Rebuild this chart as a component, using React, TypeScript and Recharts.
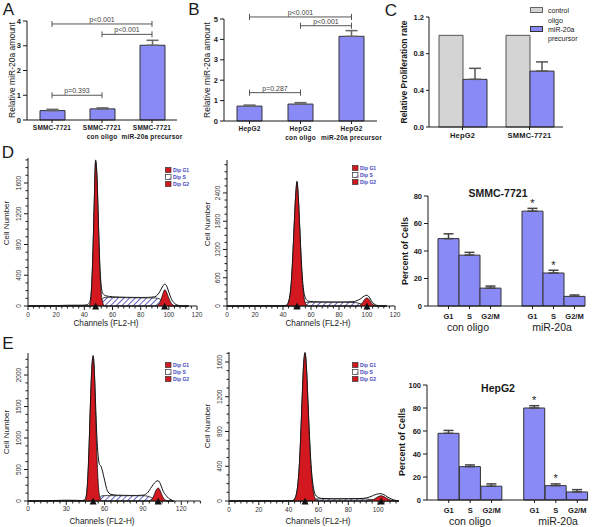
import React from "react";
import {
  BarChart, Bar, XAxis, YAxis, ErrorBar, ReferenceLine, AreaChart, Area, ReferenceDot, LabelList,
} from "recharts";

const FONT = "'Liberation Sans', Arial, Helvetica, sans-serif";
const BLUE = "#8a8af6";
const GREY = "#d4d4d4";
const RED = "#d3191f";
const INK = "#1a1a1a";

// A: miR-20a level in SMMC-7721
const aCats = ["SMMC-7721", "SMMC-7721\ncon oligo", "SMMC-7721\nmiR-20a precursor"];
const aMean = [0.38, 0.45, 3.02];
const aErr = [0.05, 0.04, 0.2];
const aPairs = [[0, 2], [1, 2], [0, 1]];
const aPairY = [3.88, 3.46, 1.0];
const aPairText = ["p<0.001", "p<0.001", "p=0.393"];

// B: miR-20a level in HepG2
const bCats = ["HepG2", "HepG2\ncon oligo", "HepG2\nmiR-20a precursor"];
const bMean = [0.73, 0.83, 4.15];
const bErr = [0.05, 0.07, 0.28];
const bPairs = [[0, 2], [1, 2], [0, 1]];
const bPairY = [5.1, 4.67, 1.39];
const bPairText = ["p<0.001", "p<0.001", "p=0.287"];

// C: proliferation
const cCats = ["HepG2", "SMMC-7721"];
const cControl = [1, 1];
const cPrecursor = [0.52, 0.61];
const cPrecursorErr = [0.12, 0.1];

// cell cycle bars (D, E right)
const phaseCats = ["G1", "S", "G2/M", "", "G1", "S", "G2/M"];
const smmcPct = [49, 37, 13, 0, 69, 24, 7];
const smmcErr = [3.5, 2, 1.5, 0, 2, 2, 1];
const smmcStar = ["", "", "", "", "*", "*", ""];
const hepPct = [58, 29, 12, 0, 80, 12.5, 7];
const hepErr = [2.5, 1.5, 2, 0, 2, 1.5, 2];
const hepStar = ["", "", "", "", "*", "*", ""];

// flow histograms: channels and counts
const CH = [0, 10, 20, 30, 38,
  42, 43, 44, 45, 46, 47, 48, 49, 50, 51, 52, 53, 54, 55, 56, 57, 58,
  60, 62, 65, 70, 75, 80, 85, 90,
  92, 94, 96,
  97, 98, 99, 100, 101, 102, 103, 104, 105, 106,
  108, 110, 112, 114];

const d1Env = [0, 2, 5, 10, 10,
  15, 30, 60, 210, 650, 1330, 1900, 1690, 1090, 540, 260, 170, 145, 135, 130, 127, 124,
  120, 118, 116, 113, 112, 111, 112, 120,
  145, 200, 265,
  285, 275, 235, 180, 130, 85, 55, 35, 20, 12,
  5, 0, 0, 0];
const d1S = [0, 0, 0, 0, 0,
  0, 0, 0, 0, 0, 0, 0, 0, 20, 40, 70, 95, 108, 112, 112, 112, 112,
  111, 110, 110, 108, 107, 106, 106, 105,
  100, 85, 50,
  30, 15, 5, 0, 0, 0, 0, 0, 0, 0,
  0, 0, 0, 0];
const d1G1 = [0, 0, 0, 0, 0,
  0, 0, 30, 180, 620, 1300, 1870, 1650, 1050, 480, 170, 50, 10, 0, 0, 0, 0,
  0, 0, 0, 0, 0, 0, 0, 0,
  0, 0, 0,
  0, 0, 0, 0, 0, 0, 0, 0, 0, 0,
  0, 0, 0, 0];
const d1G2 = [0, 0, 0, 0, 0,
  0, 0, 0, 0, 0, 0, 0, 0, 0, 0, 0, 0, 0, 0, 0, 0, 0,
  0, 0, 0, 0, 0, 0, 0, 0,
  10, 60, 170,
  210, 195, 150, 100, 60, 30, 12, 4, 0, 0,
  0, 0, 0, 0];

const d2Env = [0, 0, 3, 5, 8,
  12, 35, 100, 240, 540, 1080, 1730, 2330, 2650, 2290, 1650, 1010, 540, 280, 170, 125, 105,
  95, 90, 88, 86, 85, 85, 86, 92,
  105, 130, 165,
  190, 210, 225, 228, 210, 170, 120, 75, 45, 25,
  8, 0, 0, 0];
const d2S = [0, 0, 0, 0, 0,
  0, 0, 0, 0, 0, 0, 0, 0, 0, 0, 0, 10, 30, 55, 70, 78, 80,
  80, 80, 79, 78, 78, 77, 77, 76,
  72, 60, 40,
  30, 20, 12, 6, 2, 0, 0, 0, 0, 0,
  0, 0, 0, 0];
const d2G1 = [0, 0, 0, 0, 0,
  0, 20, 80, 220, 520, 1050, 1700, 2300, 2620, 2250, 1600, 950, 460, 180, 60, 15, 0,
  0, 0, 0, 0, 0, 0, 0, 0,
  0, 0, 0,
  0, 0, 0, 0, 0, 0, 0, 0, 0, 0,
  0, 0, 0, 0];
const d2G2 = [0, 0, 0, 0, 0,
  0, 0, 0, 0, 0, 0, 0, 0, 0, 0, 0, 0, 0, 0, 0, 0, 0,
  0, 0, 0, 0, 0, 0, 0, 0,
  0, 5, 40,
  80, 125, 160, 170, 155, 115, 70, 35, 15, 5,
  0, 0, 0, 0];

const e1Env = [0, 3, 8, 12, 10,
  8, 10, 15, 40, 140, 440, 970, 1620, 2120, 2310, 2050, 1500, 1000, 700, 580, 560, 500,
  330, 170, 105, 92, 90, 88, 88, 92,
  105, 140, 200,
  230, 260, 285, 305, 318, 320, 300, 255, 200, 150,
  90, 45, 20, 0];
const e1S = [0, 0, 0, 0, 0,
  0, 0, 0, 0, 0, 0, 0, 0, 0, 0, 0, 0, 0, 10, 40, 70, 82,
  85, 85, 85, 85, 84, 84, 84, 84,
  82, 75, 60,
  50, 40, 30, 20, 12, 6, 2, 0, 0, 0,
  0, 0, 0, 0];
const e1G1 = [0, 0, 0, 0, 0,
  0, 0, 0, 20, 120, 420, 950, 1600, 2100, 2290, 2000, 1350, 700, 280, 80, 20, 0,
  0, 0, 0, 0, 0, 0, 0, 0,
  0, 0, 0,
  0, 0, 0, 0, 0, 0, 0, 0, 0, 0,
  0, 0, 0, 0];
const e1G2 = [0, 0, 0, 0, 0,
  0, 0, 0, 0, 0, 0, 0, 0, 0, 0, 0, 0, 0, 0, 0, 0, 0,
  0, 0, 0, 0, 0, 0, 0, 0,
  0, 0, 5,
  25, 60, 110, 160, 195, 205, 185, 140, 90, 50,
  10, 0, 0, 0];

const e2Env = [0, 0, 0, 0, 0,
  3, 8, 25, 68, 170, 370, 715, 1165, 1565, 1710, 1525, 1130, 740, 420, 230, 120, 70,
  40, 30, 27, 25, 25, 26, 27, 30,
  35, 45, 58,
  66, 72, 78, 82, 84, 84, 80, 72, 62, 50,
  30, 15, 6, 0];
const e2S = [0, 0, 0, 0, 0,
  0, 0, 0, 0, 0, 0, 0, 0, 0, 0, 0, 0, 5, 12, 18, 22, 24,
  24, 24, 24, 23, 23, 23, 24, 24,
  23, 20, 15,
  12, 9, 6, 4, 2, 0, 0, 0, 0, 0,
  0, 0, 0, 0];
const e2G1 = [0, 0, 0, 0, 0,
  0, 0, 20, 60, 160, 360, 700, 1150, 1550, 1700, 1500, 1100, 700, 380, 180, 70, 20,
  0, 0, 0, 0, 0, 0, 0, 0,
  0, 0, 0,
  0, 0, 0, 0, 0, 0, 0, 0, 0, 0,
  0, 0, 0, 0];
const e2G2 = [0, 0, 0, 0, 0,
  0, 0, 0, 0, 0, 0, 0, 0, 0, 0, 0, 0, 0, 0, 0, 0, 0,
  0, 0, 0, 0, 0, 0, 0, 0,
  0, 2, 10,
  18, 28, 40, 50, 57, 60, 57, 50, 40, 30,
  12, 3, 0, 0];

const d1Peaks = [48, 97];
const d2Peaks = [50, 100];
const e1Peaks = [51, 102];
const e2Peaks = [51, 102];

const range = (a: number, b: number, step: number) => {
  const out: number[] = [];
  for (let v = a; v <= b + 1e-9; v += step) out.push(v);
  return out;
};

function Txt({ x, y, size, bold, rot, color, left, children }: any) {
  return (
    <div
      style={{
        position: "absolute", left: x, top: y,
        transform: `translate(${left ? "0" : "-50%"}, -50%)${rot ? " rotate(-90deg)" : ""}`,
        fontSize: size, fontWeight: bold ? "bold" : "normal", color: color || INK,
        whiteSpace: "nowrap", lineHeight: 1, fontFamily: FONT,
      }}
    >
      {children}
    </div>
  );
}

function CatTick(props: any) {
  const { x, y, payload, fs = 6.5, first = 9.5, gap = 9 } = props;
  const lines = String(payload.value).split("\n");
  return (
    <g>
      <line x1={x} y1={y} x2={x} y2={y + 3} stroke={INK} />
      <text x={x} y={y + first} textAnchor="middle" fontSize={fs} fontWeight="bold" fill={INK} letterSpacing={0.2}>
        {lines.map((l, i) => (
          <tspan key={i} x={x} dy={i === 0 ? 0 : gap}>{l}</tspan>
        ))}
      </text>
    </g>
  );
}

function PhaseTick(props: any) {
  const { x, y, index } = props;
  const label = phaseCats[index];
  if (!label) return <g />;
  return (
    <g>
      <line x1={x} y1={y} x2={x} y2={y + 3} stroke={INK} />
      <text x={x} y={y + 12.5} textAnchor="middle" fontSize={7.5} fontWeight="bold" fill={INK}>{label}</text>
    </g>
  );
}

function HistXTick(props: any) {
  const { x, y, payload, majors } = props;
  const major = majors.includes(payload.value);
  return (
    <g>
      <line x1={x} y1={y} x2={x} y2={y + (major ? 4 : 2.5)} stroke={INK} />
      {major && (
        <text x={x} y={y + 10.5} textAnchor="middle" fontSize={6.5} fill="#333">{payload.value}</text>
      )}
    </g>
  );
}

function HistYTick(props: any) {
  const { x, y, payload, majors } = props;
  const major = majors.includes(payload.value);
  return (
    <g>
      <line x1={x - (major ? 4 : 2.5)} y1={y} x2={x} y2={y} stroke={INK} />
      {major && (
        <text transform={`translate(${x - 7},${y}) rotate(-90)`} textAnchor="middle" fontSize={6.5} fill="#333">
          {payload.value}
        </text>
      )}
    </g>
  );
}

function RelBars({ x0, yTop, plotW, plotH, cats, mean, err, pairs, pairY, pairText, yMax, yTicks, capH }: any) {
  const yw = 16, mt = 16, mr = 14, xh = 30;
  const rows = cats.map((c: string, i: number) => ({ cat: c, mean: mean[i], err: [0, err[i]] }));
  return (
    <div style={{ position: "absolute", left: x0 - yw, top: yTop - mt }}>
      <BarChart width={yw + plotW + mr} height={mt + plotH + xh} data={rows}
        margin={{ top: mt, right: mr, left: 0, bottom: 0 }}>
        <XAxis dataKey="cat" interval={0} tickSize={0} tickMargin={0} height={xh}
          axisLine={{ stroke: INK }} tickLine={false} tick={<CatTick />} />
        <YAxis width={yw} domain={[0, yMax]} ticks={yTicks} interval={0} tickSize={4} tickMargin={2}
          axisLine={{ stroke: INK }} tickLine={{ stroke: INK }}
          tick={{ fontSize: 7.5, fontWeight: "bold", fill: INK }} />
        <Bar dataKey="mean" fill={BLUE} stroke="#333" barSize={25} isAnimationActive={false}>
          <ErrorBar dataKey="err" width={6} stroke="#666" direction="y" />
        </Bar>
        {pairs.map(([i, j]: number[], k: number) => (
          <ReferenceLine key={"l" + k} ifOverflow="visible" stroke="#555"
            segment={[{ x: cats[i], y: pairY[k] }, { x: cats[j], y: pairY[k] }]}
            label={{ value: pairText[k], position: "top", fontSize: 7, fill: "#444", offset: 2 }} />
        ))}
        {pairs.map(([i, j]: number[], k: number) => (
          <ReferenceLine key={"a" + k} ifOverflow="visible" stroke="#555"
            segment={[{ x: cats[i], y: pairY[k] - capH }, { x: cats[i], y: pairY[k] + capH }]} />
        ))}
        {pairs.map(([i, j]: number[], k: number) => (
          <ReferenceLine key={"b" + k} ifOverflow="visible" stroke="#555"
            segment={[{ x: cats[j], y: pairY[k] - capH }, { x: cats[j], y: pairY[k] + capH }]} />
        ))}
      </BarChart>
    </div>
  );
}

function ProlifBars() {
  const yw = 20, mt = 6, mr = 4, xh = 14;
  const x0 = 429, yTop = 17, plotW = 134, plotH = 110;
  const rows = cCats.map((c, i) => ({ cat: c, ctrl: cControl[i], pre: cPrecursor[i], preErr: [0, cPrecursorErr[i]] }));
  return (
    <div style={{ position: "absolute", left: x0 - yw, top: yTop - mt }}>
      <BarChart width={yw + plotW + mr} height={mt + plotH + xh} data={rows} barGap={0}
        margin={{ top: mt, right: mr, left: 0, bottom: 0 }}>
        <XAxis dataKey="cat" interval={0} tickSize={0} tickMargin={0} height={xh}
          axisLine={{ stroke: INK }} tickLine={false} tick={<CatTick fs={7.5} first={10.5} />} />
        <YAxis width={yw} domain={[0, 1.2]} ticks={[0, 0.4, 0.8, 1.2]} interval={0} tickSize={3} tickMargin={2}
          tickFormatter={(v: number) => v.toFixed(1)} axisLine={{ stroke: INK }} tickLine={{ stroke: INK }}
          tick={{ fontSize: 7.5, fontWeight: "bold", fill: INK }} />
        <Bar dataKey="ctrl" fill={GREY} stroke="#555" barSize={24} isAnimationActive={false} />
        <Bar dataKey="pre" fill={BLUE} stroke="#333" barSize={24} isAnimationActive={false}>
          <ErrorBar dataKey="preErr" width={6} stroke="#555" direction="y" />
        </Bar>
      </BarChart>
    </div>
  );
}

function PhaseBars({ x0, yTop, plotW, plotH, padL, pct, err, star, yMax, yTicks }: any) {
  const yw = 25, mt = 6, mr = 5, xh = 14;
  const rows = phaseCats.map((c, i) => ({ key: "k" + i, pct: pct[i], err: [0, err[i]], star: star[i] }));
  return (
    <div style={{ position: "absolute", left: x0 - yw, top: yTop - mt }}>
      <BarChart width={yw + plotW + mr} height={mt + plotH + xh} data={rows} barCategoryGap={0}
        margin={{ top: mt, right: mr, left: 0, bottom: 0 }}>
        <XAxis dataKey="key" interval={0} padding={{ left: padL, right: 0 }} tickSize={0} tickMargin={0}
          height={xh} axisLine={{ stroke: INK }} tickLine={false} tick={<PhaseTick />} />
        <YAxis width={yw} domain={[0, yMax]} ticks={yTicks} interval={0} tickSize={4} tickMargin={2}
          axisLine={{ stroke: INK }} tickLine={{ stroke: INK }}
          tick={{ fontSize: 7.5, fontWeight: "bold", fill: INK }} />
        <Bar dataKey="pct" fill={BLUE} stroke="#333" isAnimationActive={false}>
          <ErrorBar dataKey="err" width={5} stroke="#444" direction="y" />
          <LabelList dataKey="star" position="top" offset={4} fontSize={11} fill={INK} />
        </Bar>
      </BarChart>
    </div>
  );
}

function Histo({ id, x0, yTop, plotW, plotH, xMax, xMajor, xStep, yMax, yMajor, yStep, env, s, g1, g2, peaks }: any) {
  const yw = 22, mt = 3, mr = 9, xh = 16;
  const rows = CH.map((c, i) => ({ ch: c, env: env[i], s: s[i], g1: g1[i], g2: g2[i] }));
  return (
    <div style={{ position: "absolute", left: x0 - yw, top: yTop - mt }}>
      <AreaChart width={yw + plotW + mr} height={mt + plotH + xh} data={rows}
        margin={{ top: mt, right: mr, left: 0, bottom: 0 }}>
        <defs>
          <pattern id={id} patternUnits="userSpaceOnUse" width={4} height={4} patternTransform="rotate(45)">
            <rect width={4} height={4} fill="#fff" />
            <line x1={0} y1={0} x2={0} y2={4} stroke="#3b3bb0" strokeWidth={1.6} />
          </pattern>
        </defs>
        <XAxis type="number" dataKey="ch" domain={[0, xMax]} ticks={range(0, xMax, xStep)} interval={0}
          tickSize={0} tickMargin={0} height={xh} axisLine={{ stroke: INK }} tickLine={false}
          tick={<HistXTick majors={xMajor} />} />
        <YAxis type="number" domain={[0, yMax]} ticks={range(0, yMax, yStep)} interval={0}
          tickSize={0} tickMargin={0} width={yw} axisLine={{ stroke: INK }} tickLine={false}
          tick={<HistYTick majors={yMajor} />} />
        <Area type="monotone" dataKey="env" stroke="#111" strokeWidth={1} fill="#fff" fillOpacity={1}
          isAnimationActive={false} dot={false} activeDot={false} />
        <Area type="monotone" dataKey="s" stroke="#111" strokeWidth={0.8} fill={`url(#${id})`} fillOpacity={1}
          isAnimationActive={false} dot={false} activeDot={false} />
        <Area type="monotone" dataKey="g1" stroke="#111" strokeWidth={0.8} fill={RED} fillOpacity={1}
          isAnimationActive={false} dot={false} activeDot={false} />
        <Area type="monotone" dataKey="g2" stroke="#111" strokeWidth={0.8} fill={RED} fillOpacity={1}
          isAnimationActive={false} dot={false} activeDot={false} />
        {peaks.map((p: number) => (
          <ReferenceDot key={p} x={p} y={0} r={0} ifOverflow="visible"
            shape={(pr: any) => (
              <polygon points={`${pr.cx - 3.5},${pr.cy + 3.5} ${pr.cx + 3.5},${pr.cy + 3.5} ${pr.cx},${pr.cy - 3.5}`} fill="#111" />
            )} />
        ))}
      </AreaChart>
    </div>
  );
}

function DipLegend({ x, y, id }: any) {
  const names = ["Dip G1", "Dip S", "Dip G2"];
  return (
    <svg style={{ position: "absolute", left: x, top: y }} width={36} height={22}>
      <defs>
        <pattern id={id} patternUnits="userSpaceOnUse" width={6} height={6} patternTransform="rotate(45)">
          <rect width={6} height={6} fill="#fff" />
          <line x1={0} y1={0} x2={0} y2={6} stroke="#3b3bb0" strokeWidth={1.2} />
        </pattern>
      </defs>
      {names.map((n, i) => (
        <g key={n}>
          <rect x={0.5} y={1.5 + i * 7} width={5.5} height={5} fill={i === 1 ? `url(#${id})` : RED} stroke="#333" strokeWidth={0.7} />
          <text x={8} y={6 + i * 7} fontSize={5} fontWeight="bold" fill="#4545bb">{n}</text>
        </g>
      ))}
    </svg>
  );
}

export default function App() {
  return (
    <div style={{ position: "absolute", left: 0, top: 0, width: 600, height: 527, background: "#fff", fontFamily: FONT, overflow: "hidden" }}>
      {/* top row */}
      <RelBars x0={26.5} yTop={21} plotW={150} plotH={99} cats={aCats} mean={aMean} err={aErr}
        pairs={aPairs} pairY={aPairY} pairText={aPairText} yMax={4} yTicks={[0, 1, 2, 3, 4]} capH={0.12} />
      <RelBars x0={223.5} yTop={19} plotW={153} plotH={102} cats={bCats} mean={bMean} err={bErr}
        pairs={bPairs} pairY={bPairY} pairText={bPairText} yMax={5} yTicks={[0, 1, 2, 3, 4, 5]} capH={0.15} />
      <ProlifBars />

      {/* D */}
      <Histo id="hD1" x0={27.7} yTop={158} plotW={169} plotH={148} xMax={120} xMajor={[0, 20, 40, 60, 80, 100, 120]} xStep={4}
        yMax={1925} yMajor={[0, 400, 800, 1200, 1600]} yStep={100} env={d1Env} s={d1S} g1={d1G1} g2={d1G2} peaks={d1Peaks} />
      <Histo id="hD2" x0={227} yTop={160} plotW={168} plotH={146} xMax={120} xMajor={[0, 20, 40, 60, 80, 100, 120]} xStep={4}
        yMax={3100} yMajor={[0, 600, 1200, 1800, 2400]} yStep={150} env={d2Env} s={d2S} g1={d2G1} g2={d2G2} peaks={d2Peaks} />
      <PhaseBars x0={428} yTop={196} plotW={157} plotH={110} padL={10} pct={smmcPct} err={smmcErr} star={smmcStar}
        yMax={80} yTicks={[0, 20, 40, 60, 80]} />

      {/* E */}
      <Histo id="hE1" x0={27.7} yTop={353} plotW={172.4} plotH={148} xMax={135} xMajor={[0, 30, 60, 90, 120]} xStep={5}
        yMax={2350} yMajor={[0, 500, 1000, 1500, 2000]} yStep={125} env={e1Env} s={e1S} g1={e1G1} g2={e1G2} peaks={e1Peaks} />
      <Histo id="hE2" x0={229} yTop={352} plotW={170} plotH={149} xMax={114} xMajor={[0, 20, 40, 60, 80, 100]} xStep={4}
        yMax={1715} yMajor={[0, 400, 800, 1200, 1600]} yStep={100} env={e2Env} s={e2S} g1={e2G1} g2={e2G2} peaks={e2Peaks} />
      <PhaseBars x0={427} yTop={385} plotW={161} plotH={115} padL={11} pct={hepPct} err={hepErr} star={hepStar}
        yMax={100} yTicks={[0, 20, 40, 60, 80, 100]} />

      <DipLegend x={165} y={166} id="lgD1" />
      <DipLegend x={352} y={164} id="lgD2" />
      <DipLegend x={165} y={361} id="lgE1" />
      <DipLegend x={352} y={361} id="lgE2" />

      {/* panel letters */}
      <Txt x={8.5} y={9} size={17}>A</Txt>
      <Txt x={194} y={9} size={17}>B</Txt>
      <Txt x={391} y={10} size={17}>C</Txt>
      <Txt x={8} y={152} size={17}>D</Txt>
      <Txt x={8} y={343} size={17}>E</Txt>

      {/* axis titles */}
      <Txt x={12} y={70} size={8.5} rot>Relative miR-20a amount</Txt>
      <Txt x={207} y={70} size={8.5} rot>Relative miR-20a amount</Txt>
      <Txt x={404} y={72} size={8.5} bold rot>Relative Proliferation rate</Txt>
      <Txt x={7} y={223} size={8} rot>Cell Number</Txt>
      <Txt x={208} y={224} size={8} rot>Cell Number</Txt>
      <Txt x={7} y={432} size={8} rot>Cell Number</Txt>
      <Txt x={208} y={426} size={8} rot>Cell Number</Txt>
      <Txt x={106} y={324} size={8.2}>Channels (FL2-H)</Txt>
      <Txt x={318} y={324} size={8.2}>Channels (FL2-H)</Txt>
      <Txt x={102} y={522} size={8.2}>Channels (FL2-H)</Txt>
      <Txt x={318} y={522} size={8.2}>Channels (FL2-H)</Txt>
      <Txt x={405} y={251} size={9} bold rot>Percent of Cells</Txt>
      <Txt x={402} y={442} size={9} bold rot>Percent of Cells</Txt>

      <Txt x={498} y={193} size={10.5} bold>SMMC-7721</Txt>
      <Txt x={498} y={388} size={10.5} bold>HepG2</Txt>
      <Txt x={468} y={327} size={10.5}>con oligo</Txt>
      <Txt x={552} y={327} size={10.5}>miR-20a</Txt>
      <Txt x={470} y={521} size={10.5}>con oligo</Txt>
      <Txt x={558} y={521} size={10.5}>miR-20a</Txt>

      {/* C legend */}
      <div style={{ position: "absolute", left: 530, top: 7, width: 13, height: 6, background: GREY, border: "1px solid #666", boxSizing: "border-box" }} />
      <div style={{ position: "absolute", left: 530, top: 25.5, width: 13, height: 6, background: BLUE, border: "1px solid #333", boxSizing: "border-box" }} />
      <Txt x={548} y={10} size={7} left>control</Txt>
      <Txt x={548} y={19.5} size={7} left>oligo</Txt>
      <Txt x={548} y={28.5} size={7} left>miR-20a</Txt>
      <Txt x={548} y={38} size={7} left>precursor</Txt>
    </div>
  );
}
